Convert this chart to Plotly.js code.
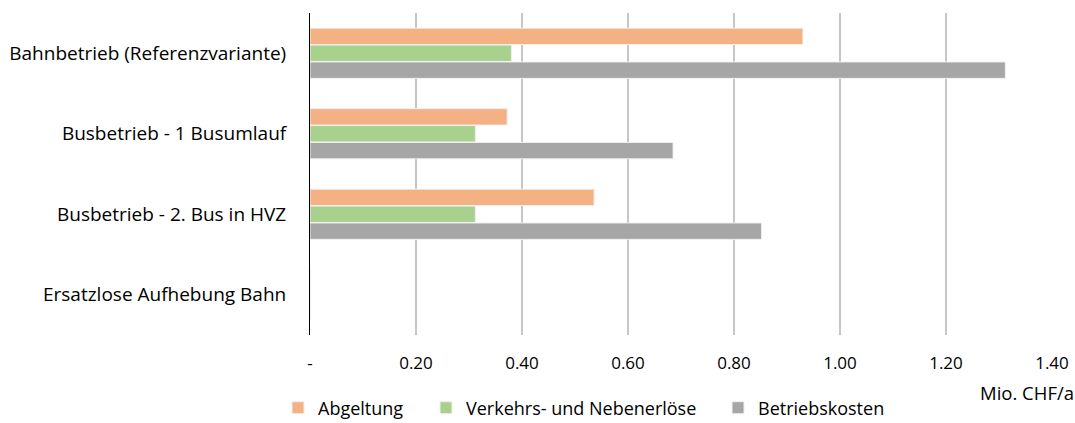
<!DOCTYPE html>
<html>
<head>
<meta charset="utf-8">
<script src="https://cdn.plot.ly/plotly-3.0.1.min.js"></script>
<style>html,body{margin:0;padding:0;background:#fff;}#chart{width:1075px;height:423px;}</style>
</head>
<body>
<div id="chart"></div>
<script>
const categories = ["Bahnbetrieb (Referenzvariante)", "Busbetrieb - 1 Busumlauf", "Busbetrieb - 2. Bus in HVZ", "Ersatzlose Aufhebung Bahn"];
const seriesNames = ["Abgeltung", "Verkehrs- und Nebenerlöse", "Betriebskosten"];
const abgeltung = [0.93, 0.372, 0.536, 0];
const erloese = [0.38, 0.312, 0.312, 0];
const betriebskosten = [1.312, 0.685, 0.852, 0];
const tickValues = [0, 0.2, 0.4, 0.6, 0.8, 1.0, 1.2, 1.4];
const tickLabels = ["-", "0.20", "0.40", "0.60", "0.80", "1.00", "1.20", "1.40"];
const unitLabel = "Mio. CHF/a";

const colors = ["#F4B183", "#A9D18E", "#A6A6A6"];
const values = [abgeltung, erloese, betriebskosten];
const legendIds = ["legend", "legend2", "legend3"];
const legendX = [278, 426, 718];
const FONT = "'Open Sans', sans-serif";

const traces = values.map((v, i) => ({
  type: "bar",
  orientation: "h",
  name: seriesNames[i],
  y: categories,
  x: v,
  legend: legendIds[i],
  marker: {color: colors[i], line: {color: "#f0f0f0", width: 1}},
  hoverinfo: "x+name"
}));

const legendBase = (px) => ({
  xref: "container", yref: "container", x: px / 1075, xanchor: "left",
  y: (423 - 408) / 423, yanchor: "middle", orientation: "h",
  font: {family: FONT, size: 18, color: "#000"}, itemwidth: 30,
  bgcolor: "rgba(0,0,0,0)", borderwidth: 0
});

const layout = {
  width: 1075, height: 423,
  margin: {l: 310, r: 23, t: 13, b: 88, pad: 0, autoexpand: false},
  paper_bgcolor: "#fff", plot_bgcolor: "#fff",
  font: {family: FONT, size: 18, color: "#000"},
  barmode: "group",
  bargap: 0.37,
  bargroupgap: 0.03,
  showlegend: true,
  legend: legendBase(legendX[0]),
  legend2: legendBase(legendX[1]),
  legend3: legendBase(legendX[2]),
  xaxis: {
    range: [0, 1.4], tickmode: "array", tickvals: tickValues, ticktext: tickLabels,
    showgrid: true, gridcolor: "#c6c6c6", gridwidth: 1.5, zeroline: false,
    showline: false, ticks: "", ticklabelstandoff: 16,
    tickfont: {family: FONT, size: 17}, fixedrange: true
  },
  yaxis: {
    autorange: "reversed", showgrid: false, zeroline: false,
    showline: true, linecolor: "#000", linewidth: 1, ticks: "", ticklabelstandoff: 19,
    tickfont: {family: FONT, size: 19}, fixedrange: true
  },
  annotations: [{
    text: unitLabel, xref: "paper", yref: "paper", x: (1076 - 310) / 742, y: (335 - 392) / 322,
    xanchor: "right", yanchor: "middle", showarrow: false,
    font: {family: FONT, size: 18.5}
  }]
};

Plotly.newPlot("chart", traces, layout, {displayModeBar: false, staticPlot: true});
</script>
</body>
</html>
